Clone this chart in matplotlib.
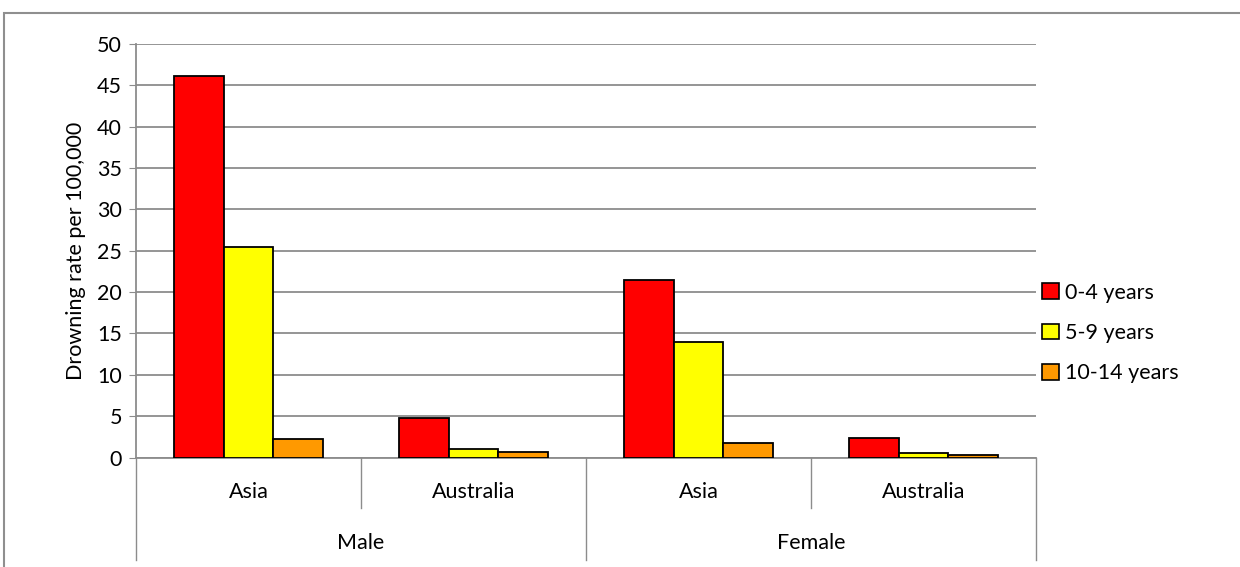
import numpy as np
import matplotlib.pyplot as plt
from matplotlib.patches import Patch, Rectangle

plt.rcParams['font.family'] = ['Lato', 'DejaVu Sans']

countries = ['Asia', 'Australia', 'Asia', 'Australia']
genders = ['Male', 'Female']
age_groups = ['0-4 years', '5-9 years', '10-14 years']
rate_0_4 = [46.1, 4.8, 21.5, 2.4]
rate_5_9 = [25.4, 1.0, 14.0, 0.5]
rate_10_14 = [2.2, 0.7, 1.8, 0.35]
colors = ['#ff0000', '#ffff00', '#ff9900']

grid_c = '#8c8c8c'
fs = 15.5

fig = plt.figure(figsize=(12.4, 5.67), dpi=100)
ax = fig.add_axes([136/1240, 1-457.5/567, 900/1240, 413.5/567])

# chart area frame
fig.patches.append(Rectangle((4/1240, -0.05), 1.5, 1-13/567+0.05, transform=fig.transFigure,
                             fill=False, edgecolor='#8f8f8f', lw=1.5))

x = np.arange(len(countries))
w = 0.2222
for i, (vals, c) in enumerate(zip([rate_0_4, rate_5_9, rate_10_14], colors)):
    ax.bar(x + (i-1)*w, vals, w, color=c, edgecolor='black', lw=1.3, zorder=3)

ax.set_xlim(-0.5, 3.5)
ax.set_ylim(0, 50)
ax.set_yticks(range(0, 51, 5))
ax.yaxis.grid(True, color=grid_c, lw=1.3)
ax.set_axisbelow(True)
for s in ['top', 'right']:
    ax.spines[s].set_visible(False)
ax.spines['left'].set_color(grid_c)
ax.spines['bottom'].set_color(grid_c)
ax.spines['left'].set_linewidth(1.3)
ax.spines['bottom'].set_linewidth(1.3)
ax.tick_params(axis='y', length=5, color=grid_c, labelsize=fs, pad=5)
ax.set_xticks([])
ax.set_ylabel('Drowning rate per 100,000', fontsize=fs, labelpad=8)

# two-level category axis
tr = ax.get_xaxis_transform()
for b in [0.5, 2.5]:
    ax.plot([b, b], [0, -0.122], transform=tr, color=grid_c, lw=1, clip_on=False)
for b in [-0.5, 1.5, 3.5]:
    ax.plot([b, b], [0, -0.248], transform=tr, color=grid_c, lw=1, clip_on=False)
for xi, name in zip(x, countries):
    ax.text(xi, -0.083, name, transform=tr, ha='center', va='center', fontsize=fs)
for gi, name in enumerate(genders):
    ax.text(gi*2 + 0.5, -0.207, name, transform=tr, ha='center', va='center', fontsize=fs)

handles = [Patch(facecolor=c, edgecolor='black', lw=1.2) for c in colors]
fig.legend(handles, age_groups, loc='center left', bbox_to_anchor=(1023/1240, 1-333/567),
           frameon=False, fontsize=fs, handlelength=0.75, handleheight=0.75,
           handletextpad=0.3, labelspacing=0.95)

fig.savefig('out.png', dpi=100)
